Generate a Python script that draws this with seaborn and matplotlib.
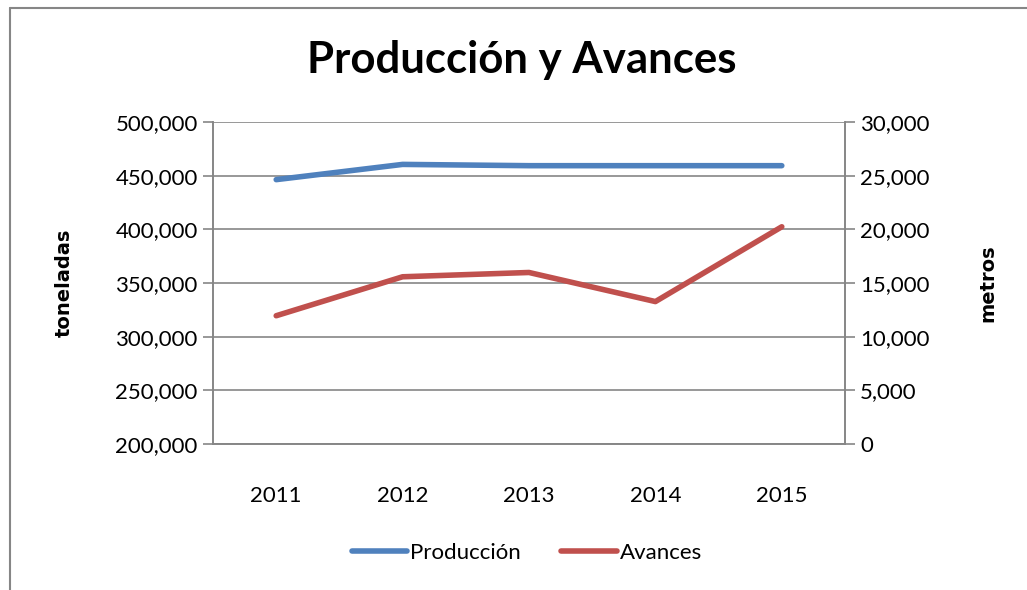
import matplotlib
matplotlib.use("Agg")
import matplotlib.pyplot as plt
from matplotlib.lines import Line2D
from matplotlib.ticker import FuncFormatter, MultipleLocator, FixedLocator
import pandas as pd
import seaborn as sns

# data
years = ["2011", "2012", "2013", "2014", "2015"]
produccion = [446300, 460500, 459300, 459300, 459300]
avances = [11950, 15580, 15980, 13270, 20240]

blue = "#4F81BD"
red = "#C0504D"
grid_gray = "#868686"

sns.set_theme(style="white")
plt.rcParams["font.family"] = ["Lato", "DejaVu Sans"]
plt.rcParams["text.color"] = "black"
plt.rcParams["axes.labelcolor"] = "black"
plt.rcParams["xtick.color"] = "black"
plt.rcParams["ytick.color"] = "black"

df = pd.DataFrame({"year": years, "Producción": produccion, "Avances": avances})

fig = plt.figure(figsize=(10.27, 5.9), dpi=100)
ax = fig.add_axes([213 / 1027, 1 - 444 / 590, (845 - 213) / 1027, (444 - 122) / 590])

sns.lineplot(data=df, x="year", y="Producción", ax=ax, color=blue, linewidth=4,
             sort=False, solid_capstyle="round")
ax2 = ax.twinx()
sns.lineplot(data=df, x="year", y="Avances", ax=ax2, color=red, linewidth=4,
             sort=False, solid_capstyle="round")

ax.set_xlim(-0.5, 4.5)
ax.set_ylim(200000, 500000)
ax2.set_ylim(0, 30000)
ax.yaxis.set_major_locator(MultipleLocator(50000))
ax2.yaxis.set_major_locator(MultipleLocator(5000))
fmt = FuncFormatter(lambda v, p: f"{int(v):,}")
ax.yaxis.set_major_formatter(fmt)
ax2.yaxis.set_major_formatter(fmt)

ax.grid(axis="y", color=grid_gray, linewidth=1.2)
ax.set_axisbelow(True)

# category ticks between the years
ax.xaxis.set_minor_locator(FixedLocator([-0.5, 0.5, 1.5, 2.5, 3.5, 4.5]))
ax.tick_params(axis="x", which="major", length=0, pad=30, labelsize=16, labelcolor="black")
ax.tick_params(axis="x", which="minor", length=7, color=grid_gray, width=1.2, direction="out")
ax.tick_params(axis="y", length=7, color=grid_gray, width=1.2, labelsize=16, pad=4,
               direction="out", labelcolor="black")
ax2.tick_params(axis="y", length=7, color=grid_gray, width=1.2, labelsize=16, pad=4,
                direction="out", labelcolor="black")

for a in (ax, ax2):
    for side in ("left", "right", "bottom"):
        a.spines[side].set_color(grid_gray)
        a.spines[side].set_linewidth(1.2)
    a.spines["top"].set_visible(False)

ax.set_xlabel("")
ax.set_ylabel("toneladas", fontsize=14, fontweight="bold", family=["DejaVu Sans"],
              labelpad=30, color="black")
ax2.set_ylabel("metros", fontsize=14, fontweight="bold", family=["DejaVu Sans"],
               labelpad=35, color="black")

fig.text(522 / 1027, 1 - 60 / 590, "Producción y Avances", ha="center", va="center",
         fontsize=31.5, fontweight="bold", color="black")

handles = [Line2D([0], [0], color=blue, linewidth=4),
           Line2D([0], [0], color=red, linewidth=4)]
fig.legend(handles, ["Producción", "Avances"], loc="center", bbox_to_anchor=(527 / 1027, 1 - 553 / 590),
           ncol=2, frameon=False, fontsize=16, handlelength=2.5, handletextpad=0.15,
           columnspacing=1.8, labelcolor="black")

# outer chart border
fig.add_artist(Line2D([10 / 1027, 10 / 1027], [0, 1 - 8 / 590], color=grid_gray, linewidth=1.5))
fig.add_artist(Line2D([10 / 1027, 1], [1 - 8 / 590, 1 - 8 / 590], color=grid_gray, linewidth=1.5))

fig.savefig("out.png", dpi=100)
